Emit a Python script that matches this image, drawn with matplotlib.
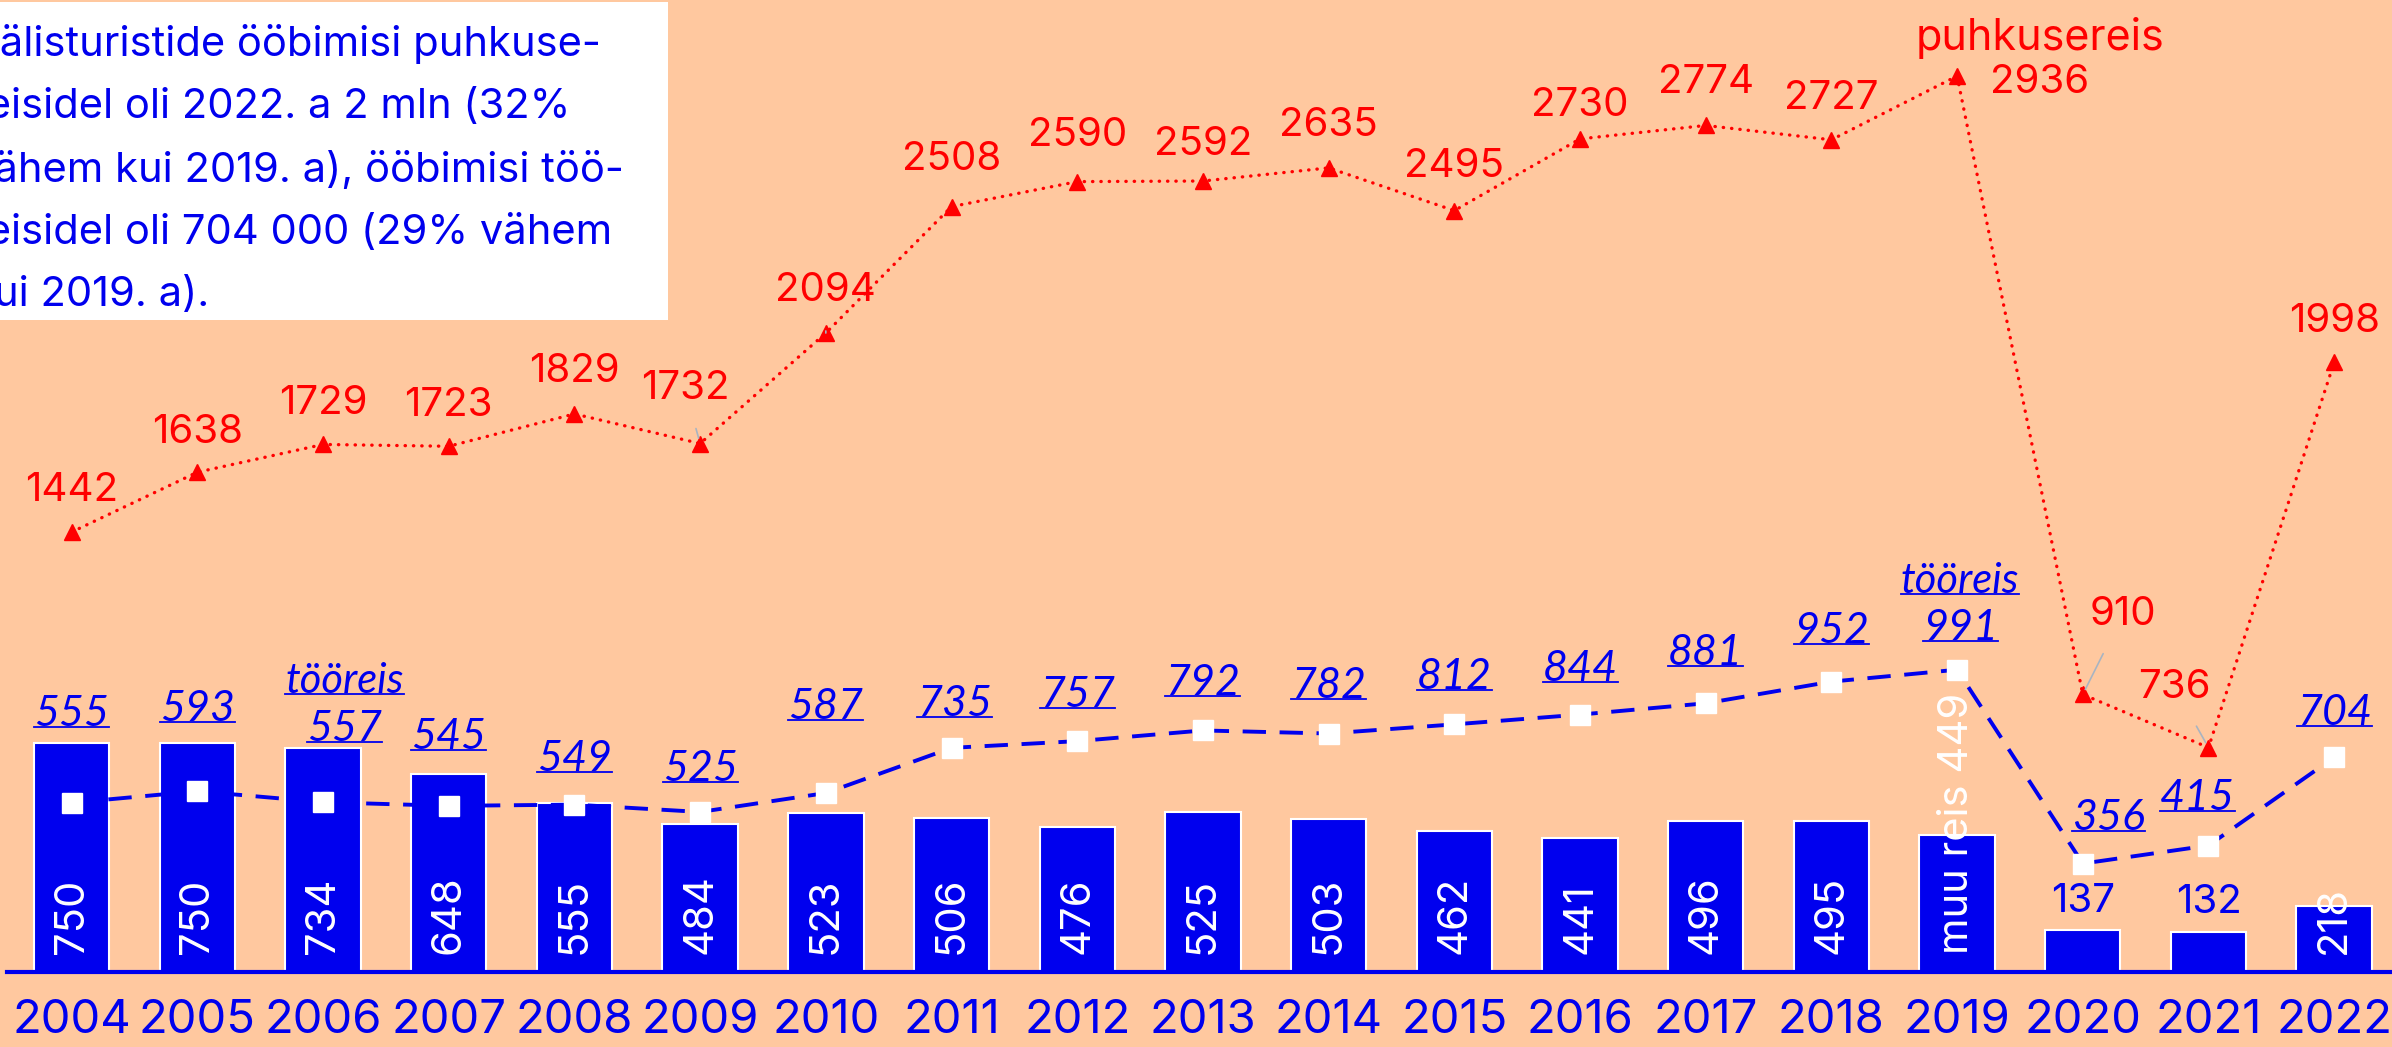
import matplotlib.pyplot as plt
from matplotlib.lines import Line2D

years = [str(y) for y in range(2004, 2023)]
muu_reis = [750, 750, 734, 648, 555, 484, 523, 506, 476, 525, 503, 462, 441, 496, 495, 449, 137, 132, 218]
tooreis = [555, 593, 557, 545, 549, 525, 587, 735, 757, 792, 782, 812, 844, 881, 952, 991, 356, 415, 704]
puhkusereis = [1442, 1638, 1729, 1723, 1829, 1732, 2094, 2508, 2590, 2592, 2635, 2495, 2730, 2774, 2727, 2936, 910, 736, 1998]

note = ("Välisturistide ööbimisi puhkuse-\n"
        "reisidel oli 2022. a 2 mln (32%\n"
        "vähem kui 2019. a), ööbimisi töö-\n"
        "reisidel oli 704 000 (29% vähem\n"
        "kui 2019. a).")

BG = "#FFC89F"
BLUE = "#0000EE"
RED = "#FF0000"
FONT = "Inter"
IFONT = "Lato"
K = 1.1  # px of the small preview -> points

# label offsets (dx, dy), in preview pixels
red_off = [(0, 27), (0, 26), (0, 27), (0, 27), (0, 28), (-10, 36), (0, 28), (0, 31), (0, 30), (0, 24),
           (0, 28), (0, 29), (0, 22), (0, 28), (0, 27), (54, -4), (26, 52), (-22, 39), (0, 27)]
leader = {5, 6, 16, 17}
blue_off = [(0, 58), (0, 54), (14, 48), (0, 45), (0, 30), (0, 28), (0, 56), (2, 29), (0, 30), (0, 31),
            (0, 31), (0, 31), (0, 30), (0, 33), (0, 33), (2, 27), (17, 30), (-7, 31), (0, 29)]

fig = plt.figure(figsize=(23.92, 10.47), dpi=100, facecolor=BG)
ax = fig.add_axes([0, 0, 1, 1])
ax.set_facecolor(BG)
ax.set_xlim(-0.57, 18.46)
ax.set_ylim(-245, 3185)
ax.axis("off")

x = list(range(len(years)))

ax.bar(x, muu_reis, width=0.6, color=BLUE, edgecolor="white", linewidth=1.5, zorder=2)
ax.axhline(0, xmin=0.003, xmax=1, color=BLUE, lw=3, zorder=3)

ax.plot(x, tooreis, color=BLUE, lw=2.8, dashes=(6, 3.5), marker="s", ms=14,
        mfc="white", mec="white", zorder=4)
ax.plot(x, puhkusereis, color=RED, lw=2.4, linestyle=(0, (0.1, 2.4)), dash_capstyle="round",
        marker="^", ms=11, mfc=RED, mec=RED, zorder=4)

for i, y in enumerate(years):
    ax.text(i, -160, y, ha="center", va="center", color=BLUE, fontsize=34, family=FONT)

# bar labels
for i, v in enumerate(muu_reis):
    if years[i] in ("2020", "2021"):
        ax.annotate(str(v), (i, v), xytext=(0, 19 * K), textcoords="offset points",
                    ha="center", va="center", color=BLUE, fontsize=29, family=FONT)
    else:
        txt = "muu reis " + str(v) if years[i] == "2019" else str(v)
        ax.annotate(txt, (i, 0), xytext=(0, 12 * K), textcoords="offset points",
                    ha="center", va="bottom", rotation=90, color="white", fontsize=30,
                    family=FONT, zorder=5)

# red labels
for i, v in enumerate(puhkusereis):
    dx, dy = red_off[i]
    props = dict(arrowstyle="-", color="#A8B4C2", lw=1.2, shrinkA=14, shrinkB=4) if i in leader else None
    ax.annotate(str(v), (i, v), xytext=(dx * K, dy * K), textcoords="offset points",
                ha="center", va="center", color=RED, fontsize=29, family=FONT,
                arrowprops=props, zorder=5)
ax.annotate("puhkusereis", (15, puhkusereis[15]), xytext=(54 * K, 25 * K), textcoords="offset points",
            ha="center", va="center", color=RED, fontsize=31, family=FONT)

# blue italic underlined labels
ul = []
for i, v in enumerate(tooreis):
    dx, dy = blue_off[i]
    t = ax.annotate(str(v), (i, v), xytext=(dx * K, dy * K), textcoords="offset points",
                    ha="center", va="center", color=BLUE, fontsize=31, family=IFONT,
                    style="italic", zorder=5)
    ul.append(t)
    if years[i] in ("2006", "2019"):
        t2 = ax.annotate("tööreis", (i, v), xytext=(dx * K, (dy + 31) * K), textcoords="offset points",
                         ha="center", va="center", color=BLUE, fontsize=30, family=IFONT,
                         style="italic", zorder=5)
        ul.append(t2)

# note box
fig.patches.append(plt.Rectangle((0, 1 - 320 / 1047), 668 / 2392, 318 / 1047, transform=fig.transFigure,
                                 facecolor="white", edgecolor="none", zorder=6))
fig.text(-29 / 2392, 1 - 24 / 1047, note, ha="left", va="top", color=BLUE, fontsize=30,
         family=FONT, linespacing=1.8, zorder=7)

fig.canvas.draw()
r = fig.canvas.get_renderer()
inv = fig.transFigure.inverted()
for t in ul:
    bb = t.get_window_extent(r)
    (x0, y0), (x1, _) = inv.transform([(bb.x0, bb.y0 + 6), (bb.x1, bb.y0 + 6)])
    fig.add_artist(Line2D([x0, x1], [y0, y0], color=BLUE, lw=1.3, transform=fig.transFigure))

fig.savefig("out.png", dpi=100, facecolor=BG)
